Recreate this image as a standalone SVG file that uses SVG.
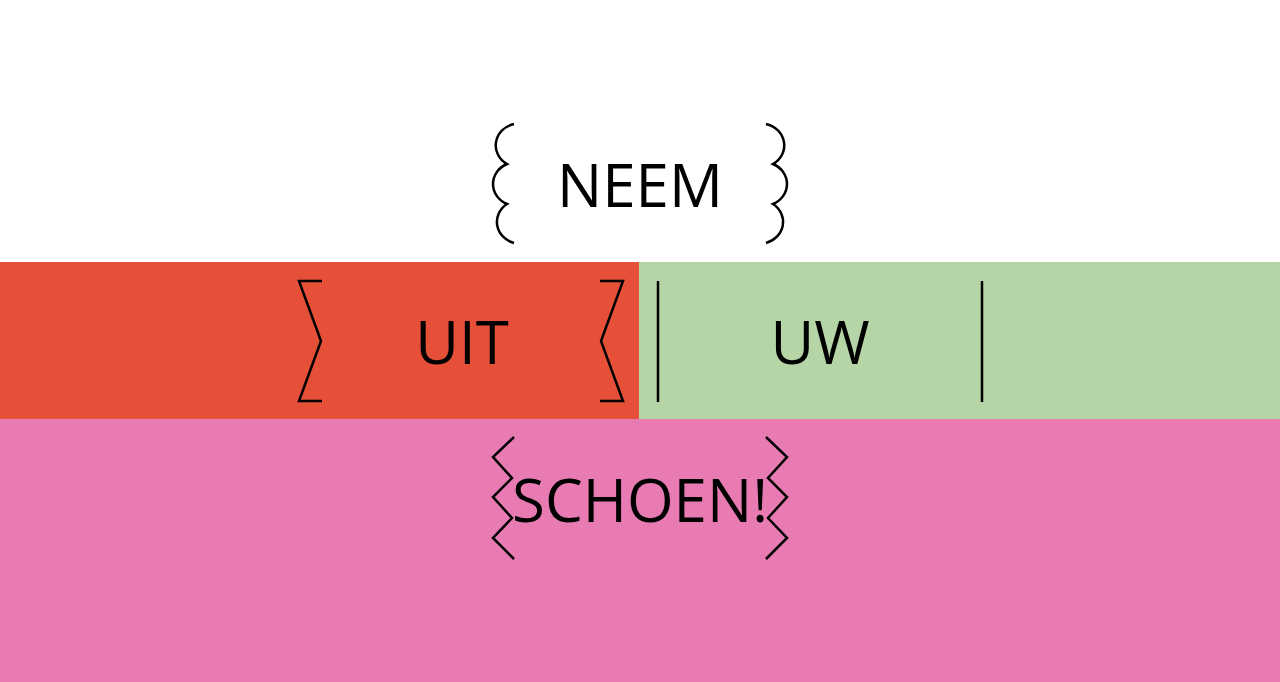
<svg xmlns="http://www.w3.org/2000/svg" width="1280" height="682" viewBox="0 0 1280 682">
<style>
.t{font-family:"Open Sans","Noto Sans",sans-serif;font-size:60px;fill:#000;text-anchor:middle}
.b{fill:none;stroke:#000;stroke-width:2.5}
</style>
<rect width="1280" height="682" fill="#fff"/>
<g id="bands">
<rect x="0" y="262" width="639" height="157" fill="#E65038"/>
<rect x="639" y="262" width="641" height="157" fill="#B6D5A6"/>
<rect x="0" y="419" width="1280" height="263" fill="#E77BB2"/>
</g>
<g id="neem">
<path class="b" d="M514,124 A24,22 0 0 0 507,164 A24,22 0 0 0 507,204 A24,22 0 0 0 514,243"/>
<path class="b" d="M766,124 A24,22 0 0 1 773,164 A24,22 0 0 1 773,204 A24,22 0 0 1 766,243"/>
<text class="t" x="640" y="207">NEEM</text>
</g>
<g id="uit">
<path class="b" d="M322,281 H299 L321,341 L299,401 H322"/>
<path class="b" d="M600,281 H623 L601,341 L623,401 H600"/>
<text class="t" x="462" y="364">UIT</text>
</g>
<g id="uw">
<path class="b" d="M658,281 V402 M982,281 V402"/>
<text class="t" x="820" y="364">UW</text>
</g>
<g id="schoen">
<path class="b" d="M514,437 L493,457 L512,478 L493,497 L512,518 L493,538 L514,559"/>
<path class="b" d="M766,437 L787,457 L768,478 L787,497 L768,518 L787,538 L766,559"/>
<text class="t" x="640" y="522">SCHOEN!</text>
</g>
<g id="connectors"/>
</svg>
